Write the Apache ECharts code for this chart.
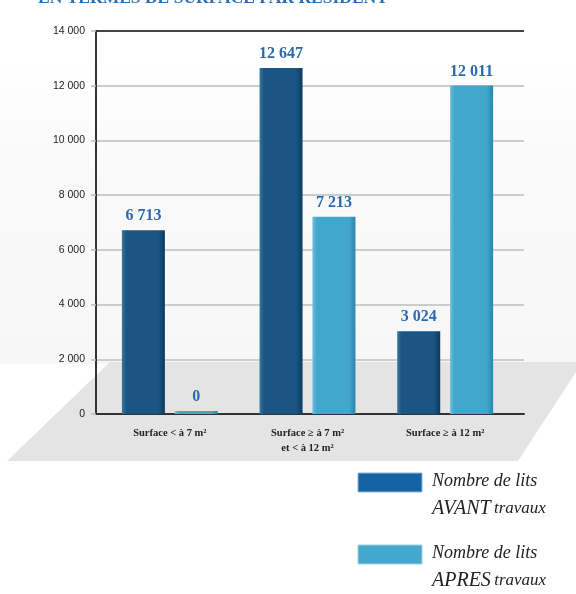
<!DOCTYPE html>
<html>
<head>
<meta charset="utf-8">
<script src="https://cdn.jsdelivr.net/npm/echarts@6/dist/echarts.min.js"></script>
<style>
  html, body { margin: 0; padding: 0; background: #fff; }
  #chart { width: 576px; height: 594px; }
</style>
</head>
<body>
<div id="chart"></div>
<script>
// données
const categories = ['Surface < à 7 m²', 'Surface ≥ à 7 m²\net < à 12 m²', 'Surface ≥ à 12 m²']
const avantValues = [6713, 12647, 3024]
const apresValues = [0, 7213, 12011]
const seriesNames = ['Nombre de lits AVANT travaux', 'Nombre de lits APRES travaux']
const yTicks = [0, 2000, 4000, 6000, 8000, 10000, 12000, 14000]

const SERIF = '"Liberation Serif", "DejaVu Serif", serif'
const fmt = v => String(v).replace(/\B(?=(\d{3})+(?!\d))/g, ' ')

const chart = echarts.init(document.getElementById('chart'))

// dégradé horizontal pour l'effet de relief
const barGradient = (light, mid, dark) => new echarts.graphic.LinearGradient(0, 0, 1, 0, [
  { offset: 0, color: light },
  { offset: 0.1, color: mid },
  { offset: 0.85, color: mid },
  { offset: 1, color: dark }
])

const valueLabel = {
  show: true,
  position: 'top',
  distance: 6,
  formatter: p => fmt(p.value),
  fontFamily: SERIF,
  fontWeight: 'bold',
  fontSize: 16,
  color: '#2a6aae'
}

const legendRich = {
  a: { fontFamily: SERIF, fontStyle: 'italic', fontSize: 18, lineHeight: 28, fill: '#222' },
  c: { fontFamily: SERIF, fontStyle: 'italic', fontSize: 20, lineHeight: 28, fill: '#222' },
  b: { fontFamily: SERIF, fontStyle: 'italic', fontSize: 17, lineHeight: 28, fill: '#222' }
}

chart.setOption({
  animation: false,
  backgroundColor: '#fff',
  graphic: [
    // titre coupé en haut
    {
      type: 'text', left: 38, top: -11, z: 10,
      style: { text: 'EN TERMES DE SURFACE PAR RESIDENT', font: 'bold 17.5px ' + SERIF, fill: '#2a6fb5' }
    },
    // fond léger
    {
      type: 'rect', shape: { x: 0, y: 58, width: 576, height: 306 }, z: -20, silent: true,
      style: { fill: new echarts.graphic.LinearGradient(0, 0, 0, 1, [
        { offset: 0, color: '#ffffff' }, { offset: 0.3, color: '#fafafa' }, { offset: 1, color: '#f7f7f7' }
      ]) }
    },
    // sol gris
    {
      type: 'polygon', z: -10, silent: true,
      shape: { points: [[7, 461], [110, 362], [576, 362], [576, 372], [518, 461]] },
      style: { fill: '#e4e4e4' }
    },
    // légende
    {
      type: 'rect', shape: { x: 358, y: 473, width: 64, height: 19 },
      style: { fill: '#1563a3', stroke: '#8cb9dd', lineWidth: 1 }
    },
    {
      type: 'text', left: 432, top: 472,
      style: { text: '{a|Nombre de lits}\n{c|AVANT} {b|travaux}', rich: legendRich }
    },
    {
      type: 'rect', shape: { x: 358, y: 545, width: 64, height: 19 },
      style: { fill: '#43a8cc', stroke: '#9fd0e4', lineWidth: 1 }
    },
    {
      type: 'text', left: 432, top: 544,
      style: { text: '{a|Nombre de lits}\n{c|APRES} {b|travaux}', rich: legendRich }
    }
  ],
  grid: [
    // axes et lignes de grille
    { left: 96, right: 52, top: 31, bottom: 180 },
    // barres
    { left: 101, right: 62, top: 31, bottom: 180 }
  ],
  xAxis: [
    {
      gridIndex: 0, type: 'value', min: 0, max: 1,
      axisLine: { show: true, lineStyle: { color: '#333', width: 2 } },
      axisTick: { show: false }, axisLabel: { show: false }, splitLine: { show: false }
    },
    {
      gridIndex: 1, type: 'category', data: categories,
      axisLine: { show: false }, axisTick: { show: false },
      axisLabel: {
        margin: 12, fontFamily: SERIF, fontWeight: 'bold', fontSize: 10.5,
        color: '#222', lineHeight: 15
      }
    }
  ],
  yAxis: [
    {
      gridIndex: 0, type: 'value', min: 0, max: 14000, interval: 2000,
      axisLine: { show: true, lineStyle: { color: '#333', width: 2 } },
      axisTick: { show: true, length: 5, lineStyle: { color: '#bbb', width: 1.5 } },
      axisLabel: {
        margin: 11, fontFamily: '"Liberation Sans", sans-serif', fontSize: 10.5, color: '#222',
        formatter: v => yTicks.includes(v) ? fmt(v) : ''
      },
      splitLine: {
        show: true,
        lineStyle: { width: 2, color: ['#cccccc', '#cccccc', '#cccccc', '#cccccc', '#cccccc', '#cccccc', '#cccccc', '#444444'] }
      }
    },
    {
      gridIndex: 1, type: 'value', min: 0, max: 14000, interval: 2000, show: false,
      splitLine: { show: false }
    }
  ],
  series: [
    {
      name: seriesNames[0], type: 'bar', xAxisIndex: 1, yAxisIndex: 1,
      data: avantValues, barWidth: 43, barGap: '23%',
      itemStyle: { color: barGradient('#3a77a3', '#1a5583', '#0e3a5e') },
      label: valueLabel
    },
    {
      name: seriesNames[1], type: 'bar', xAxisIndex: 1, yAxisIndex: 1,
      data: apresValues, barWidth: 43, barMinHeight: 3,
      itemStyle: { color: barGradient('#6cc0de', '#42a6cd', '#2a85ab') },
      label: valueLabel
    }
  ]
})
</script>
</body>
</html>
